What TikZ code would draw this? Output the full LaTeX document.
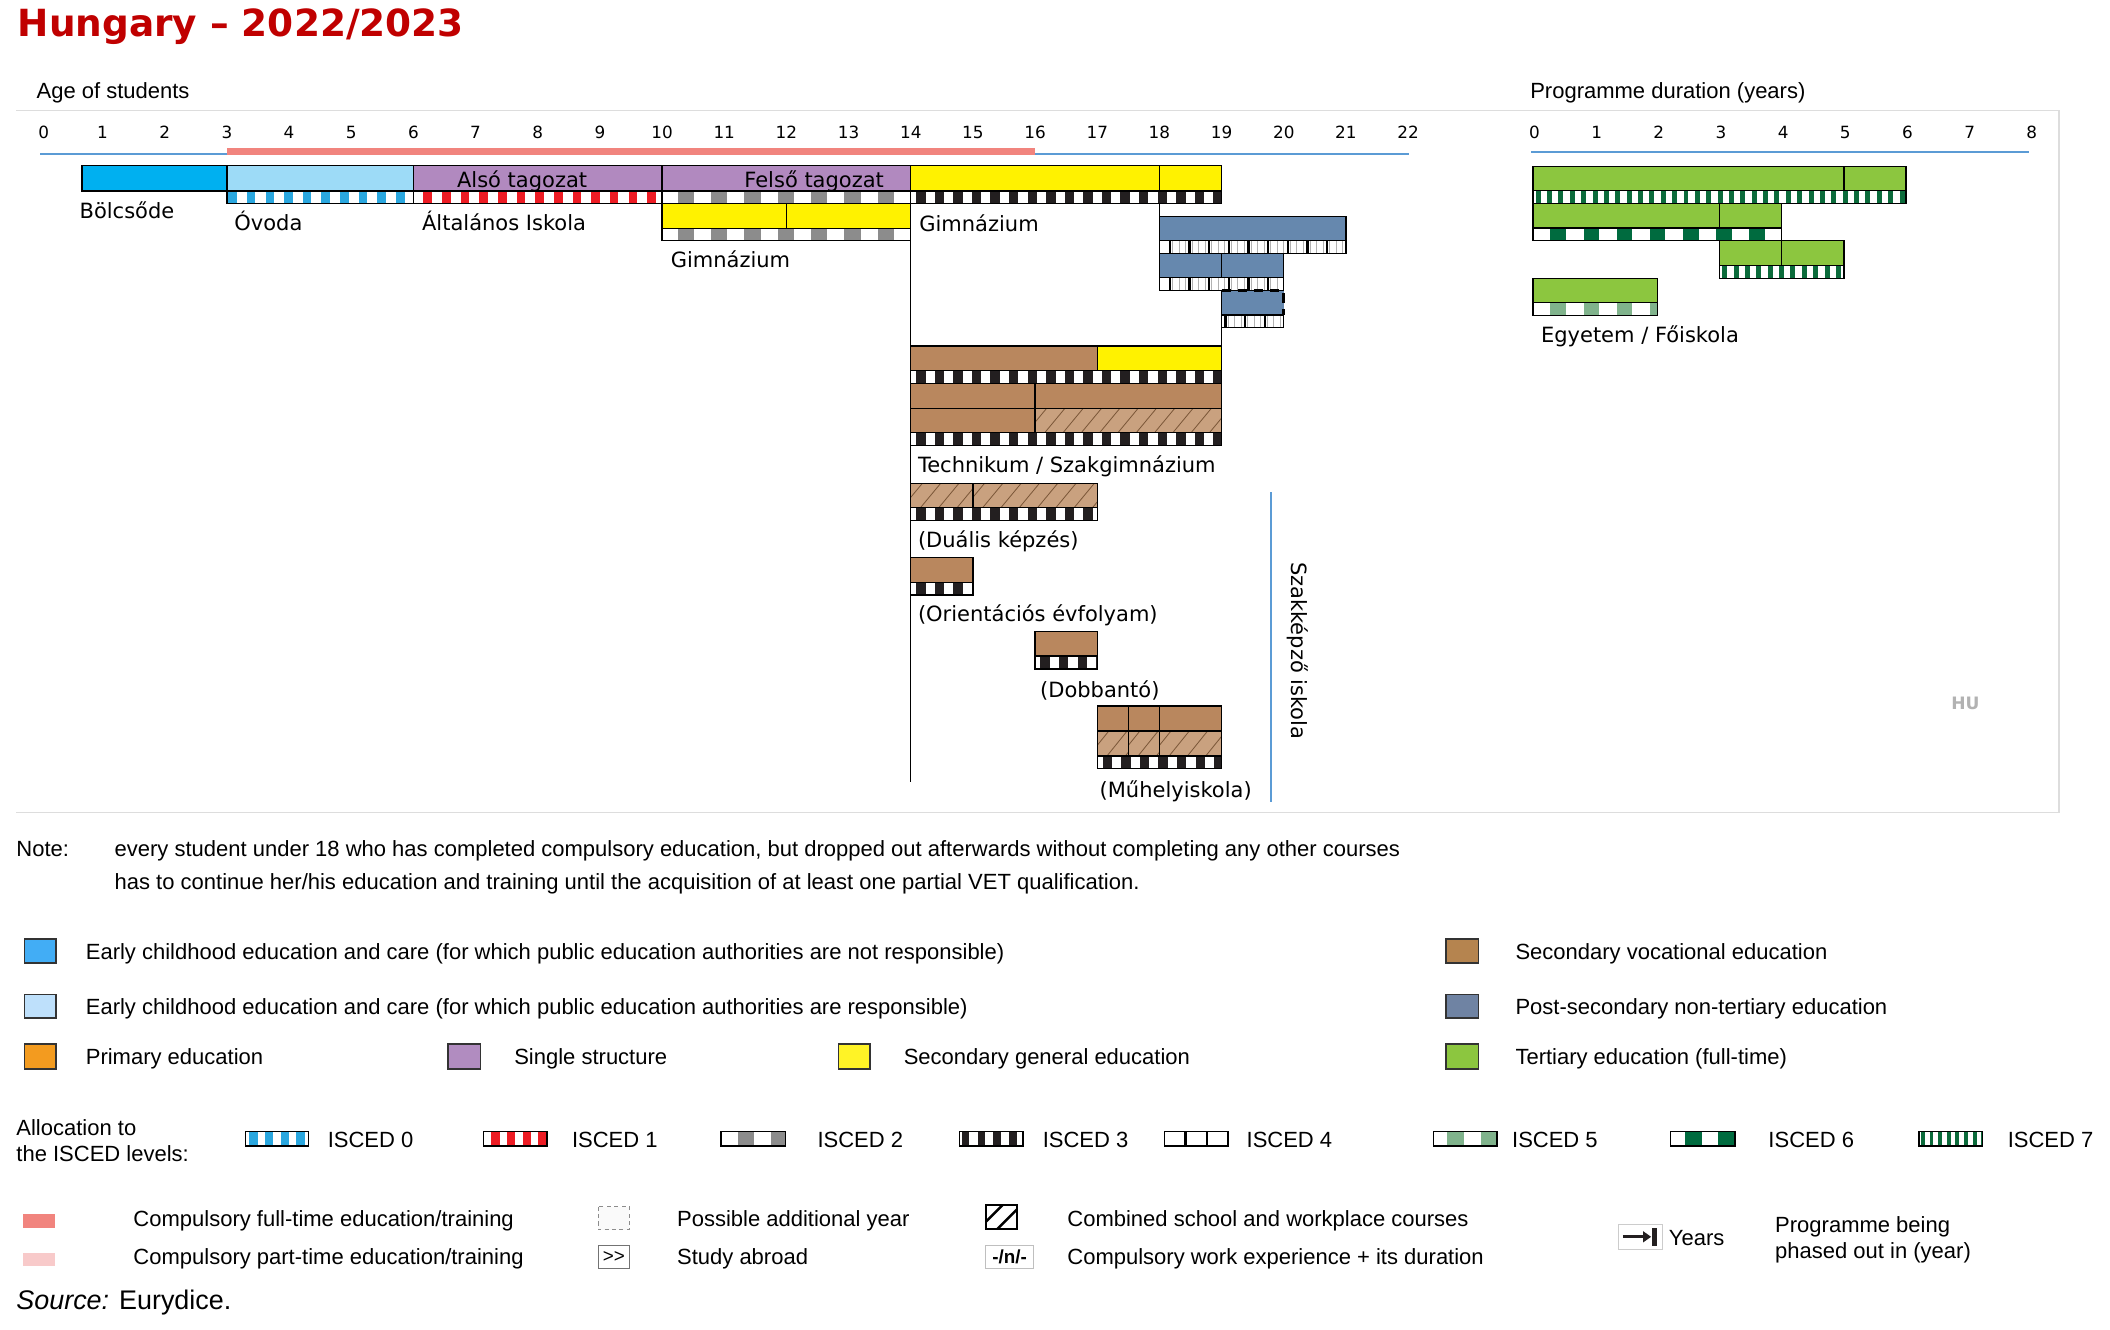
\documentclass[tikz,border=0pt]{standalone}
\usepackage{fontspec}
\setmainfont{Liberation Sans}
\newfontfamily\dv{DejaVu Sans}
\usetikzlibrary{arrows.meta}
\definecolor{cEcecA}{HTML}{00B0F0}
\definecolor{cEcecB}{HTML}{9DDBF7}
\definecolor{cPurp}{HTML}{B189BF}
\definecolor{cYel}{HTML}{FFF200}
\definecolor{cBrown}{HTML}{B9875E}
\definecolor{cHatch}{HTML}{C9A17F}
\definecolor{cHline}{HTML}{7A5638}
\definecolor{cBlue}{HTML}{6688AE}
\definecolor{cGreen}{HTML}{8CC63F}
\definecolor{cIsA}{HTML}{2AA7DF}
\definecolor{cIsB}{HTML}{ED1C24}
\definecolor{cIsC}{HTML}{8C8C8C}
\definecolor{cIsD}{HTML}{231F20}
\definecolor{cIsF}{HTML}{80B38C}
\definecolor{cIsG}{HTML}{006B3F}
\definecolor{cIsH}{HTML}{0B6B3B}
\definecolor{cAxis}{HTML}{5B9BD5}
\definecolor{cRed}{HTML}{F1847E}
\definecolor{cPink}{HTML}{F8CACA}
\definecolor{cTitle}{HTML}{C00000}
\definecolor{cFrame}{HTML}{DDDDDD}
\definecolor{lA}{HTML}{42ADF5}
\definecolor{lB}{HTML}{BEE0FB}
\definecolor{lOr}{HTML}{F39B1F}
\definecolor{lPu}{HTML}{B18CC0}
\definecolor{lYe}{HTML}{FFF326}
\definecolor{lBr}{HTML}{B5844F}
\definecolor{lBl}{HTML}{6F83A3}
\definecolor{lGr}{HTML}{8CC63F}
% stripes: x1 x2 y1 y2 colour period width phase
\newcommand\mylines[8]{%
  \begin{scope}
    \clip (#1,#3) rectangle (#2,#4);
    \pgfmathsetmacro\sa{#1+#8}\pgfmathsetmacro\sb{#1+#8+#6}
    \foreach \xx in {\sa,\sb,...,#2} \fill[#5] (\xx,#3) rectangle ++(#7,#4-#3);
  \end{scope}}
\newcommand\mystrip[8]{%
  \fill[white] (#1,#3) rectangle (#2,#4);
  \mylines{#1}{#2}{#3}{#4}{#5}{#6}{#7}{#8}%
  \draw[bdr] (#1,#3) rectangle (#2,#4);}
\newcommand\iscA[4]{\mystrip{#1}{#2}{#3}{#4}{cIsA}{13.85}{6.4}{1}}
\newcommand\iscB[4]{\mystrip{#1}{#2}{#3}{#4}{cIsB}{13.85}{6.4}{7.5}}
\newcommand\iscC[4]{\mystrip{#1}{#2}{#3}{#4}{cIsC}{24.8}{12.2}{11.5}}
\newcommand\iscD[4]{\mystrip{#1}{#2}{#3}{#4}{cIsD}{13.8}{7}{4}}
\newcommand\iscE[5]{%
  \fill[white] (#1,#3) rectangle (#2,#4);
  \mylines{#1}{#2}{#3}{#4}{black!30}{4.87}{0.5}{#5+2.4}%
  \mylines{#1}{#2}{#3}{#4}{black}{14.6}{1.8}{#5}%
  \draw[bdr] (#1,#3) rectangle (#2,#4);}
\newcommand\iscF[4]{\mystrip{#1}{#2}{#3}{#4}{cIsF}{24.6}{11.6}{13}}
\newcommand\iscG[4]{\mystrip{#1}{#2}{#3}{#4}{cIsG}{24.6}{11.6}{13}}
\newcommand\iscH[4]{\mystrip{#1}{#2}{#3}{#4}{cIsH}{8.45}{3.7}{2}}
\newcommand\bx[5]{\draw[bdr,fill=#5] (#1,#3) rectangle (#2,#4);}
\newcommand\hatchbox[4]{%
  \fill[cHatch] (#1,#3) rectangle (#2,#4);
  \begin{scope}
    \clip (#1,#3) rectangle (#2,#4);
    \pgfmathsetmacro\sa{#1-20}\pgfmathsetmacro\sb{#1-20+13.6}
    \foreach \xx in {\sa,\sb,...,#2} \draw[cHline,line width=0.6pt] (\xx,#4) -- ++(15,#3-#4);
  \end{scope}
  \draw[bdr] (#1,#3) rectangle (#2,#4);}
\begin{document}
\begin{tikzpicture}[x=1pt,y=-1pt,
  bdr/.style={draw=black,line width=1pt},
  lab/.style={font=\dv\fontsize{15.6}{18}\selectfont,anchor=west,inner sep=0pt,text height=11.4pt,text depth=0pt},
  tick/.style={font=\dv\fontsize{12.5}{15}\selectfont,inner sep=0pt,text height=9.1pt,text depth=0pt},
  leg/.style={font=\fontsize{16.35}{19}\selectfont,anchor=west,inner sep=0pt,text height=11.7pt,text depth=0pt},
  sq/.style={draw=black!80,line width=1.2pt}]
\useasboundingbox (0,0) rectangle (1568,988);
\fill[white] (0,0) rectangle (1568,988);

% title and headings
\node[anchor=west,inner sep=0pt,text height=20.3pt,text depth=0pt,font=\dv\bfseries\fontsize{27.8}{32}\selectfont,text=cTitle] (title) at (13,17) {Hungary – 2022/2023};
\node[leg] (agehead) at (27,67) {Age of students};
\node[leg] (proghead) at (1137,67) {Programme duration (years)};

% frame
\draw[cFrame,line width=1pt] (12,82) -- (1530,82) -- (1530,604) -- (12,604);

% age axis
\node[tick] (t0) at (32.5,98) {0};
\foreach \a in {1,...,22} \node[tick] (t\a) at (30+46.2*\a,98) {\a};
\draw[cAxis,line width=1.5pt] (30,114.5) -- (1047,114.5);
\fill[cRed] (168.6,110.2) rectangle (769.2,115.2);
% duration axis
\foreach \k in {0,...,8} \node[tick] (p\k) at (1140.3+46.2*\k,98) {\k};
\draw[cAxis,line width=1.5pt] (1138,113) -- (1508,113);

% connectors
\draw[line width=0.8pt] (676.8,151.1) -- (676.8,581);
\draw[line width=0.8pt] (861.6,151.1) -- (861.6,161);
\draw[line width=0.8pt] (907.8,216) -- (907.8,257.1);

% row 1
\bx{61}{168.6}{123.1}{142}{cEcecA}
\bx{168.6}{307.2}{123.1}{142}{cEcecB}
\bx{307.2}{492}{123.1}{142}{cPurp}
\bx{492}{676.8}{123.1}{142}{cPurp}
\bx{676.8}{861.6}{123.1}{142}{cYel}
\bx{861.6}{907.8}{123.1}{142}{cYel}
\iscA{168.6}{307.2}{142}{151.1}
\iscB{307.2}{492}{142}{151.1}
\iscC{492}{676.8}{142}{151.1}
\iscD{676.8}{907.8}{142}{151.1}
\node[lab,anchor=center] (also) at (388,133.3) {Alsó tagozat};
\node[lab,anchor=center] (felso) at (605,133.3) {Felső tagozat};
\node[lab] (bolcs) at (59,156.3) {Bölcsőde};
\node[lab] (ovoda) at (174,165.3) {Óvoda};
\node[lab] (altisk) at (313.5,165.3) {Általános Iskola};
\node[lab] (gimA) at (683,166) {Gimnázium};

% row 2
\bx{492}{584.4}{151.1}{169.6}{cYel}
\bx{584.4}{676.8}{151.1}{169.6}{cYel}
\iscC{492}{676.8}{169.6}{178.9}
\node[lab] (gimB) at (498.3,193.2) {Gimnázium};

% post-secondary
\bx{861.6}{1000.2}{161}{178.8}{cBlue}
\iscE{861.6}{1000.2}{178.8}{188.3}{6.9}
\bx{861.6}{907.8}{188.3}{206.3}{cBlue}
\bx{907.8}{954}{188.3}{206.3}{cBlue}
\iscE{861.6}{954}{206.3}{216}{6.9}
\fill[cBlue] (907.8,216) rectangle (954,234);
\draw[line width=2.2pt,dash pattern=on 7pt off 5pt] (907.8,216) -- (954,216) -- (954,234);
\draw[line width=0.8pt] (907.8,216) -- (907.8,234);
\iscE{907.8}{954}{234}{243.4}{2}

% vocational
\bx{676.8}{815.4}{257.1}{275.4}{cBrown}
\bx{815.4}{907.8}{257.1}{275.4}{cYel}
\iscD{676.8}{907.8}{275.4}{284.9}
\bx{676.8}{769.2}{284.9}{303.4}{cBrown}
\bx{769.2}{907.8}{284.9}{303.4}{cBrown}
\bx{676.8}{769.2}{303.4}{321.5}{cBrown}
\hatchbox{769.2}{907.8}{303.4}{321.5}
\iscD{676.8}{907.8}{321.5}{331.2}
\node[lab] (tech) at (682,345.6) {Technikum / Szakgimnázium};

\hatchbox{676.8}{723}{359.2}{377.3}
\hatchbox{723}{815.4}{359.2}{377.3}
\iscD{676.8}{815.4}{377.3}{386.9}
\node[lab] (dual) at (682,400.8) {(Duális képzés)};

\bx{676.8}{723}{414.4}{432.7}{cBrown}
\iscD{676.8}{723}{432.7}{442.2}
\node[lab] (orient) at (682,456.5) {(Orientációs évfolyam)};

\bx{769.2}{815.4}{469.4}{487.5}{cBrown}
\iscD{769.2}{815.4}{487.5}{497.1}
\node[lab] (dobb) at (772.8,512.7) {(Dobbantó)};

\bx{815.4}{838.5}{524.6}{543.2}{cBrown}
\bx{838.5}{861.6}{524.6}{543.2}{cBrown}
\bx{861.6}{907.8}{524.6}{543.2}{cBrown}
\hatchbox{815.4}{838.5}{543.2}{561.8}
\hatchbox{838.5}{861.6}{543.2}{561.8}
\hatchbox{861.6}{907.8}{543.2}{561.8}
\iscD{815.4}{907.8}{561.8}{571}
\node[lab] (muhely) at (817,586.6) {(Műhelyiskola)};

\draw[cAxis,line width=1.8pt] (944.5,365.9) -- (944.5,595.7);
\node[lab,anchor=center,rotate=-90] (szakk) at (965.5,483.6) {Szakképző iskola};

% tertiary
\bx{1139.2}{1370.2}{123.9}{141.7}{cGreen}
\bx{1370.2}{1416.4}{123.9}{141.7}{cGreen}
\iscH{1139.2}{1416.4}{141.7}{151.1}
\bx{1139.2}{1277.8}{151.1}{169.4}{cGreen}
\bx{1277.8}{1324}{151.1}{169.4}{cGreen}
\iscG{1139.2}{1324}{169.4}{178.8}
\bx{1277.8}{1324}{178.8}{197.4}{cGreen}
\bx{1324}{1370.2}{178.8}{197.4}{cGreen}
\iscH{1277.8}{1370.2}{197.4}{206.8}
\bx{1139.2}{1231.6}{206.8}{224.7}{cGreen}
\iscF{1139.2}{1231.6}{224.7}{234.3}
\node[lab] (egyetem) at (1145,249) {Egyetem / Főiskola};
\node[anchor=center,inner sep=0pt,font=\dv\bfseries\fontsize{12.7}{15}\selectfont,text=black!30] (hu) at (1460.5,522.6) {HU};

% note
\node[leg] (note) at (12,631) {Note:};
\node[leg] (noteA) at (85,631) {every student under 18 who has completed compulsory education, but dropped out afterwards without completing any other courses};
\node[leg] (noteB) at (85,655) {has to continue her/his education and training until the acquisition of at least one partial VET qualification.};

% colour legend
\draw[sq,fill=lA] (18.3,698) rectangle (41.7,715.4);
\node[leg] (lgA) at (63.6,707.2) {Early childhood education and care (for which public education authorities are not responsible)};
\draw[sq,fill=lB] (18.3,738.9) rectangle (41.7,756.3);
\node[leg] (lgB) at (63.6,748) {Early childhood education and care (for which public education authorities are responsible)};
\draw[sq,fill=lOr] (18.3,776) rectangle (41.7,794.4);
\node[leg] (lgC) at (63.6,785.2) {Primary education};
\draw[sq,fill=lPu] (333,776) rectangle (357,794.4);
\node[leg] (lgD) at (382,785.2) {Single structure};
\draw[sq,fill=lYe] (623,776) rectangle (646.4,794.4);
\node[leg] (lgE) at (671.4,785.2) {Secondary general education};
\draw[sq,fill=lBr] (1074.6,698) rectangle (1098.8,715.4);
\node[leg] (lgF) at (1126,707.2) {Secondary vocational education};
\draw[sq,fill=lBl] (1074.6,738.9) rectangle (1098.8,756.3);
\node[leg] (lgG) at (1126,748) {Post-secondary non-tertiary education};
\draw[sq,fill=lGr] (1074.6,776) rectangle (1098.8,794.4);
\node[leg] (lgH) at (1126,785.2) {Tertiary education (full-time)};

% ISCED legend
\node[leg] (allocA) at (12,838) {Allocation to};
\node[leg] (allocB) at (12,857) {the ISCED levels:};
\mystrip{182.5}{229.4}{841}{851.6}{cIsA}{11.7}{6.3}{2.6}
\node[leg] (isA) at (243.4,847) {ISCED 0};
\mystrip{359.2}{406.6}{841}{851.6}{cIsB}{11.7}{6.3}{5.7}
\node[leg] (isB) at (424.9,847) {ISCED 1};
\mystrip{535.9}{583.9}{841}{851.6}{cIsC}{24.5}{12}{12.5}
\node[leg] (isC) at (607.3,847) {ISCED 2};
\mystrip{713.2}{760.1}{841}{851.6}{cIsD}{11.7}{5.6}{1.5}
\node[leg] (isD) at (774.7,847) {ISCED 3};
\mystrip{865.2}{912.5}{841}{851.6}{black}{15.8}{1.6}{15}
\node[leg] (isE) at (926.2,847) {ISCED 4};
\mystrip{1065.1}{1112.4}{841}{851.6}{cIsF}{25}{12}{10.5}
\node[leg] (isF) at (1123.5,847) {ISCED 5};
\mystrip{1241.4}{1289.3}{841}{851.6}{cIsG}{24.5}{12.5}{11}
\node[leg] (isG) at (1314,847) {ISCED 6};
\mystrip{1426}{1473.4}{841}{851.6}{cIsH}{6.4}{2.9}{1.5}
\node[leg] (isH) at (1491.8,847) {ISCED 7};

% other symbols
\fill[cRed] (17.2,902.4) rectangle (40.7,912.3);
\node[leg] (cfull) at (99,905.4) {Compulsory full-time education/training};
\fill[cPink] (17.2,930.9) rectangle (40.7,940.8);
\node[leg] (cpart) at (99,933.9) {Compulsory part-time education/training};
\draw[black!45,line width=0.8pt,dash pattern=on 3pt off 2.5pt,fill=black!2] (444.6,896.7) rectangle (467.7,914);
\node[leg] (addyr) at (503,905.4) {Possible additional year};
\draw[black!55,line width=0.8pt] (444.6,925.7) rectangle (467.7,942.5);
\node[anchor=center,inner sep=0pt,font=\fontsize{14}{16}\selectfont] (abr) at (456.2,934.1) {>{}>};
\node[leg] (abroad) at (503,933.9) {Study abroad};
\begin{scope}
  \clip (732.4,895.5) rectangle (755.9,913.5);
  \draw[line width=1.8pt] (727,913.5) -- ++(20,-20);
  \draw[line width=1.8pt] (741,913.5) -- ++(20,-20);
\end{scope}
\draw[line width=1.6pt] (732.4,895.5) rectangle (755.9,913.5);
\node[leg] (comb) at (793,905.4) {Combined school and workplace courses};
\draw[black!25,line width=0.7pt] (732.4,925.7) rectangle (767.9,942.5);
\node[anchor=center,inner sep=0pt,font=\bfseries\fontsize{14}{16}\selectfont] (nbox) at (750.2,934.1) {-/n/-};
\node[leg] (work) at (793,933.9) {Compulsory work experience + its duration};
\draw[black!20,line width=0.7pt] (1202.6,909.8) rectangle (1235.3,928.4);
\draw[cIsD,line width=2.2pt,-{Triangle[length=6pt,width=8pt]}] (1206,919.1) -- (1227,919.1);
\fill[cIsD] (1227.8,912.6) rectangle (1231.2,925.6);
\node[leg] (years) at (1240,919.5) {Years};
\node[leg] (phaseA) at (1319,910.3) {Programme being};
\node[leg] (phaseB) at (1319,929) {phased out in (year)};

\node[anchor=west,inner sep=0pt,text height=14.4pt,text depth=0pt,font=\fontsize{20}{24}\selectfont] (source) at (12,966) {\textit{Source:} Eurydice.};
\end{tikzpicture}
\end{document}
